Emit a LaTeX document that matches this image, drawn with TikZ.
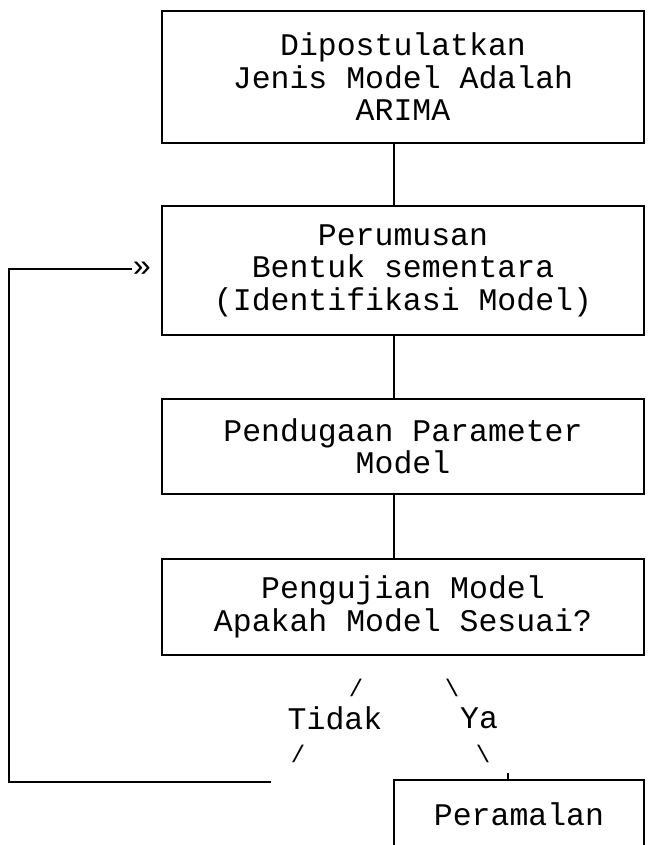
\documentclass[tikz,border=0pt]{standalone}
\usepackage{fontspec}
\setmonofont{Liberation Mono}

\begin{document}
\begin{tikzpicture}[x=1pt, y=-1pt, line width=1.9pt,
  box/.style={draw, rectangle, minimum width=482pt, inner sep=0pt, align=center,
    font=\ttfamily\fontsize{31.5}{32.5}\selectfont},
  txt/.style={inner sep=0pt, font=\ttfamily\fontsize{31.5}{32.5}\selectfont},
  slash/.style={inner sep=0pt, font=\ttfamily\fontsize{24}{24}\selectfont}]
\useasboundingbox (0,0) rectangle (654,845);
\clip (0,0) rectangle (654,845);
% boxes
\node[box, minimum height=132pt] (postulat) at (403,77) {Dipostulatkan\\ Jenis Model Adalah\\ARIMA};
\node[box, minimum height=129pt] (rumus) at (403,270.5) {Perumusan\\ Bentuk sementara\\(Identifikasi Model)};
\node[box, minimum height=95pt] (duga) at (403,446.5) {Pendugaan Parameter\\Model};
\node[box, minimum height=96pt] (uji) at (403,607) {Pengujian Model\\ Apakah Model Sesuai?};
\node[box, minimum width=250pt, minimum height=68pt] (ramal) at (519,814) {Peramalan};
% connectors
\draw ([xshift=-9pt]postulat.south) -- ([xshift=-9pt]rumus.north);
\draw ([xshift=-9pt]rumus.south) -- ([xshift=-9pt]duga.north);
\draw ([xshift=-9pt]duga.south) -- ([xshift=-9pt]uji.north);
\draw ([xshift=-11pt]ramal.north) -- +(0,-6);
% decision
\node[slash] (slashA) at (356,688) {/};
\node[slash] (slashB) at (452,688) {\textbackslash};
\node[txt] (tidak) at (335,718) {Tidak};
\node[txt] (ya) at (479,718) {Ya};
\node[slash] (slashC) at (298,754) {/};
\node[slash] (slashD) at (483,754) {\textbackslash};
% feedback
\node[txt] (raquo) at (142,269) {»};
\coordinate (tidakend) at (271,782);
\coordinate (leftbus) at (9,782);
\draw (tidakend) -- (leftbus) |- (raquo.west);
\end{tikzpicture}
\end{document}
